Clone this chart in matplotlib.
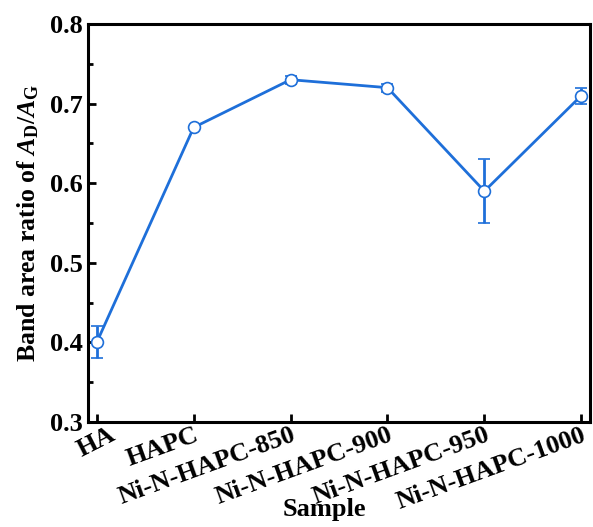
import matplotlib
matplotlib.use("Agg")
import matplotlib.pyplot as plt
from matplotlib.ticker import MultipleLocator

plt.rcParams["font.family"] = "Liberation Serif"
plt.rcParams["font.weight"] = "bold"
plt.rcParams["mathtext.fontset"] = "custom"
plt.rcParams["mathtext.rm"] = "Liberation Serif:bold"
plt.rcParams["mathtext.it"] = "Liberation Serif:italic:bold"
plt.rcParams["mathtext.bf"] = "Liberation Serif:bold"

samples = ["HA", "HAPC", "Ni-N-HAPC-850", "Ni-N-HAPC-900", "Ni-N-HAPC-950", "Ni-N-HAPC-1000"]
ratio = [0.40, 0.67, 0.73, 0.72, 0.59, 0.71]
err = [0.02, 0.0, 0.005, 0.005, 0.04, 0.01]

BLUE = "#1E6FD9"

fig = plt.figure(figsize=(5.93, 5.27), dpi=100)
ax = fig.add_axes([0.1484, 0.1992, 0.8466, 0.7553])

x = list(range(len(samples)))
ax.errorbar(x, ratio, yerr=err, color=BLUE, lw=2, capsize=4, capthick=2,
            elinewidth=2, marker="o", markersize=8.5, markerfacecolor="white",
            markeredgecolor=BLUE, markeredgewidth=1.2, zorder=3)

ax.set_xlim(-0.09, 5.09)
ax.set_ylim(0.3, 0.8)
ax.yaxis.set_major_locator(MultipleLocator(0.1))
ax.yaxis.set_minor_locator(MultipleLocator(0.05))
ax.set_xticks(x)
labels = ax.set_xticklabels(samples, rotation=20, ha="right", va="top",
                            rotation_mode="anchor")
# the short first label sits centred under its tick in the original
labels[0].set_ha("center")
labels[0].set_rotation(27)
labels[0].set_rotation_mode("default")

for s in ax.spines.values():
    s.set_linewidth(2.2)
ax.tick_params(axis="both", which="major", direction="in", length=6, width=2,
               labelsize=19, pad=4)
ax.tick_params(axis="y", which="minor", direction="in", length=3.5, width=2)
ax.tick_params(axis="x", which="major", pad=1)

ax.set_ylabel(r"Band area ratio of $A_\mathrm{D}/A_\mathrm{G}$", fontsize=18.5,
              fontweight="bold", labelpad=6)
ax.set_xlabel("Sample", fontsize=19, fontweight="bold")
ax.xaxis.set_label_coords(0.47, -0.19)

fig.savefig("out.png", dpi=100)
